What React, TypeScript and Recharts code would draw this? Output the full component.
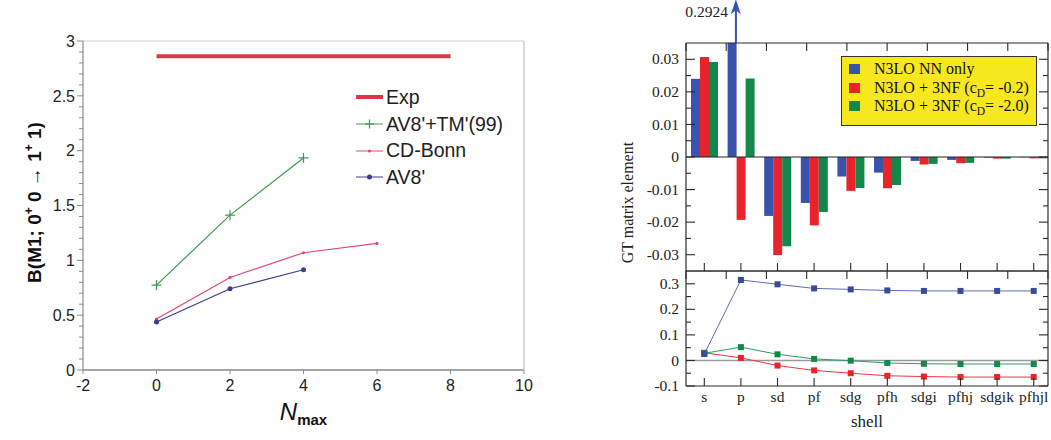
import React from "react";
import { LineChart, Line, BarChart, Bar, XAxis, YAxis, ReferenceLine, Legend, Label } from "recharts";

const SANS = "'Liberation Sans', Arial, sans-serif";
const SERIF = "'Liberation Serif', 'Times New Roman', serif";

// ---- left panel: B(M1; 0+0 -> 1+1) vs Nmax ----
const nmaxTicks = [-2, 0, 2, 4, 6, 8, 10];
const bm1Major = [0, 0.5, 1, 1.5, 2, 2.5, 3];
const expNmax = [0, 8];
const expValues = [2.86, 2.86];
const tmNmax = [0, 2, 4];
const tmValues = [0.774, 1.412, 1.934];
const cdbNmax = [0, 2, 4, 6];
const cdbValues = [0.465, 0.844, 1.069, 1.154];
const av8Nmax = [0, 2, 4];
const av8Values = [0.437, 0.741, 0.914];

const leftNames = ["Exp", "AV8'+TM'(99)", "CD-Bonn", "AV8'"];

// ---- right panel: GT matrix element per shell ----
const shells = ["s", "p", "sd", "pf", "sdg", "pfh", "sdgi", "pfhj", "sdgik", "pfhjl"];
const gtNN = [0.024, 0.2924, -0.0181, -0.0141, -0.006, -0.0048, -0.0012, -0.0009, -0.0002, -0.0001];
const gtCd02 = [0.0307, -0.0193, -0.0301, -0.021, -0.0104, -0.0096, -0.0023, -0.0019, -0.0005, -0.0004];
const gtCd20 = [0.0292, 0.0241, -0.0274, -0.0169, -0.0095, -0.0086, -0.0021, -0.0018, -0.0005, -0.0004];
// running totals (lower frame)
const sumNN = [0.025, 0.315, 0.298, 0.282, 0.278, 0.274, 0.272, 0.272, 0.272, 0.272];
const sumCd02 = [0.03, 0.01, -0.02, -0.039, -0.05, -0.06, -0.063, -0.065, -0.065, -0.065];
const sumCd20 = [0.028, 0.052, 0.024, 0.006, -0.001, -0.01, -0.013, -0.014, -0.014, -0.014];

const gtNames = ["N3LO NN only", "N3LO + 3NF (c_D= -0.2)", "N3LO + 3NF (c_D= -2.0)"];
const gtMajor = [-0.03, -0.02, -0.01, 0, 0.01, 0.02, 0.03];
const sumMajor = [-0.1, 0, 0.1, 0.2, 0.3];

const C_EXP = "#d93848";
const C_TM = "#3a9a52";
const C_CDB = "#e0457e";
const C_AV8 = "#3c3c8e";
const C_NN = "#3b52ad";
const C_CD02 = "#e8232b";
const C_CD20 = "#14874a";
const FRAME = "#2a2a2a";

const zip = (xs: number[], ys: number[]) => xs.map((x, i) => ({ x, y: ys[i] }));
const expData = zip(expNmax, expValues);
const tmData = zip(tmNmax, tmValues);
const cdbData = zip(cdbNmax, cdbValues);
const av8Data = zip(av8Nmax, av8Values);

const shellIdx = shells.map((_, i) => i);
const gtRows = shells.map((s, i) => ({ x: i, shell: s, nn: gtNN[i], cd02: gtCd02[i], cd20: gtCd20[i] }));
const sumRows = shells.map((s, i) => ({ x: i, shell: s, nn: sumNN[i], cd02: sumCd02[i], cd20: sumCd20[i] }));

const X_DOMAIN = [-0.5, 9.39];

const fmt = (v: number) => String(Number(v.toFixed(3)));
const near = (v: number, step: number) => Math.abs(v / step - Math.round(v / step)) < 1e-6;
const withMinor = (major: number[], parts: number) => {
  const out: number[] = [];
  for (let i = 0; i < major.length - 1; i++) {
    const d = (major[i + 1] - major[i]) / parts;
    for (let k = 0; k < parts; k++) out.push(Number((major[i] + k * d).toFixed(4)));
  }
  out.push(major[major.length - 1]);
  return out;
};
const sortByNames = (payload: any[], names: string[]) =>
  [...(payload || [])].sort((a, b) => names.indexOf(a.value) - names.indexOf(b.value));

// ---- left panel pieces ----
function BTickY(props: any) {
  const { x, y, payload } = props;
  const v = payload.value;
  const major = near(v, 0.5);
  return (
    <g>
      <line x1={x - (major ? 6 : 4)} x2={x} y1={y} y2={y} stroke="#8a8a8a" />
      {major && (
        <text x={x - 8} y={y} dy="0.36em" textAnchor="end" fontFamily={SANS} fontSize={16} fill="#222">
          {fmt(v)}
        </text>
      )}
    </g>
  );
}

function BTickX(props: any) {
  const { x, y, payload } = props;
  return (
    <g>
      <line x1={x} x2={x} y1={y} y2={y + 4} stroke="#8a8a8a" />
      <text x={x} y={y + 15} dy="0.36em" textAnchor="middle" fontFamily={SANS} fontSize={16} fill="#222">
        {payload.value}
      </text>
    </g>
  );
}

function BTitle(props: any) {
  const vb = props.viewBox || {};
  return (
    <text
      transform={`translate(${vb.x + vb.width - 42}, ${vb.y + vb.height / 2 - 3}) rotate(-90)`}
      textAnchor="middle"
      fontFamily={SANS}
      fontSize={19}
      fontWeight="bold"
      fill="#111"
    >
      B(M1; 0<tspan dy={-8} fontSize={12}>+</tspan>
      <tspan dy={8}> 0 → 1</tspan>
      <tspan dy={-8} fontSize={12}>+</tspan>
      <tspan dy={8}> 1)</tspan>
    </text>
  );
}

function NmaxTitle(props: any) {
  const vb = props.viewBox || {};
  return (
    <text x={vb.x + vb.width / 2} y={vb.y + 50} textAnchor="middle" fontFamily={SANS} fill="#111">
      <tspan fontSize={24} fontStyle="italic">N</tspan>
      <tspan fontSize={15} fontWeight="bold" dy={5}>max</tspan>
    </text>
  );
}

const plusDot = (color: string) => (p: any) => {
  const { cx, cy, index } = p;
  if (cx == null || cy == null) return <g key={index} />;
  return (
    <g key={index}>
      <line x1={cx - 5} x2={cx + 5} y1={cy} y2={cy} stroke={color} strokeWidth={1.2} />
      <line x1={cx} x2={cx} y1={cy - 5} y2={cy + 5} stroke={color} strokeWidth={1.2} />
    </g>
  );
};

const markerFor: Record<string, (c: string) => React.ReactNode> = {
  "AV8'+TM'(99)": (c) => (
    <g>
      <line x1={9} x2={18} y1={6} y2={6} stroke={c} strokeWidth={1.2} />
      <line x1={13.5} x2={13.5} y1={1.5} y2={10.5} stroke={c} strokeWidth={1.2} />
    </g>
  ),
  "CD-Bonn": (c) => <circle cx={13.5} cy={6} r={1.6} fill={c} />,
  "AV8'": (c) => <circle cx={13.5} cy={6} r={2.5} fill={c} />,
};

function BLegend(props: any) {
  const items = sortByNames(props.payload, leftNames);
  return (
    <div style={{ fontFamily: SANS, fontSize: 19.5, color: "#222" }}>
      {items.map((it: any) => (
        <div key={it.value} style={{ display: "flex", alignItems: "center", height: 26.7, whiteSpace: "nowrap" }}>
          <svg width={27} height={12}>
            <line x1={0} x2={27} y1={6} y2={6} stroke={it.color} strokeWidth={it.value === "Exp" ? 4 : 1} />
            {markerFor[it.value] ? markerFor[it.value](it.color) : null}
          </svg>
          <span style={{ marginLeft: 3 }}>{it.value}</span>
        </div>
      ))}
    </div>
  );
}

// ---- right panel pieces ----
const frameYTick = (majorStep: number, side: "left" | "right") => (props: any) => {
  const { x, y, payload } = props;
  const v = payload.value;
  const major = near(v, majorStep);
  const len = major ? 9 : 5;
  const dir = side === "left" ? 1 : -1;
  return (
    <g>
      <line x1={x} x2={x + dir * len} y1={y} y2={y} stroke={FRAME} strokeWidth={1.1} />
      {side === "left" && major && (
        <text x={x - 7} y={y} dy="0.33em" textAnchor="end" fontFamily={SERIF} fontSize={15.5} fill="#222">
          {fmt(v)}
        </text>
      )}
    </g>
  );
};

const frameXTick = (dir: number, labels?: string[]) => (props: any) => {
  const { x, y, payload } = props;
  return (
    <g>
      <line x1={x} x2={x} y1={y} y2={y + dir * 8} stroke={FRAME} strokeWidth={1.1} />
      {labels && (
        <text x={x} y={y + 11} dy="0.33em" textAnchor="middle" fontFamily={SERIF} fontSize={15.5} fill="#222">
          {labels[payload.value]}
        </text>
      )}
    </g>
  );
};

function GtTitle(props: any) {
  const vb = props.viewBox || {};
  return (
    <text
      transform={`translate(${vb.x + vb.width - 53}, ${vb.y + vb.height * 0.7}) rotate(-90)`}
      textAnchor="middle"
      fontFamily={SERIF}
      fontSize={16}
      fill="#222"
    >
      GT matrix element
    </text>
  );
}

function ShellTitle(props: any) {
  const vb = props.viewBox || {};
  return (
    <text x={vb.x + vb.width / 2} y={vb.y + 41} textAnchor="middle" fontFamily={SERIF} fontSize={17} fill="#222">
      shell
    </text>
  );
}

function ArrowShape(props: any) {
  const { x1, y1, y2 } = props;
  const x = x1 - 5;
  return (
    <g>
      <line x1={x} x2={x} y1={y1} y2={y2 + 6} stroke={C_NN} strokeWidth={2} />
      <polygon points={`${x},${y2 - 2} ${x - 5},${y2 + 13} ${x},${y2 + 9} ${x + 5},${y2 + 13}`} fill={C_NN} />
      <text x={x - 8} y={y2 + 16} textAnchor="end" fontFamily={SERIF} fontSize={15.5} fill="#222">
        {gtNN[shells.indexOf("p")]}
      </text>
    </g>
  );
}

const gtLabel = (name: string) => {
  const parts = name.split("c_D");
  if (parts.length < 2) return name;
  return (
    <>
      {parts[0]}c<span style={{ fontSize: 11.5, position: "relative", top: 4 }}>D</span>
      {parts[1]}
    </>
  );
};

function GtLegend(props: any) {
  const items = sortByNames(props.payload, gtNames);
  return (
    <div
      style={{
        background: "#f6e71f",
        border: "1px solid #333",
        width: 196,
        height: 70,
        boxSizing: "border-box",
        padding: "3px 0 0 7px",
        fontFamily: SERIF,
        fontSize: 16,
        color: "#111",
      }}
    >
      {items.map((it: any) => (
        <div key={it.value} style={{ display: "flex", alignItems: "center", height: 18.5, whiteSpace: "nowrap" }}>
          <span style={{ width: 11, height: 10, background: it.color, display: "inline-block", flex: "none" }} />
          <span style={{ marginLeft: 14 }}>{gtLabel(it.value)}</span>
        </div>
      ))}
    </div>
  );
}

const squareDot = (color: string) => (p: any) => {
  const { cx, cy, index } = p;
  if (cx == null || cy == null) return <g key={index} />;
  return <rect key={index} x={cx - 3} y={cy - 3} width={6} height={6} fill={color} />;
};

const gtTicks = withMinor(gtMajor, 2);
const sumTicks = withMinor(sumMajor, 2);
const bm1Ticks = withMinor(bm1Major, 5);

// axes are 1px thick so recharts draws them; the margins make up the rest
const frameAxis = {
  interval: 0 as const,
  allowDataOverflow: true,
  tickLine: false,
  tickSize: 0,
  tickMargin: 0,
  axisLine: { stroke: FRAME, strokeWidth: 1.2 },
};

export default function App() {
  return (
    <div style={{ position: "absolute", left: 0, top: 0, width: 1051, height: 440, background: "#fff", overflow: "hidden" }}>
      <div style={{ position: "absolute", left: 0, top: 0 }}>
        <LineChart width={545} height={440} margin={{ top: 40, right: 20, bottom: 69, left: 82 }}>
          <XAxis
            xAxisId="x"
            type="number"
            dataKey="x"
            domain={[-2, 10]}
            ticks={nmaxTicks}
            interval={0}
            allowDataOverflow
            height={1}
            tickLine={false}
            tickSize={0}
            tickMargin={0}
            axisLine={{ stroke: "#8a8a8a", strokeWidth: 1.5 }}
            tick={<BTickX />}
          >
            <Label content={<NmaxTitle />} />
          </XAxis>
          <XAxis
            xAxisId="top"
            orientation="top"
            type="number"
            domain={[-2, 10]}
            allowDataOverflow
            height={1}
            tick={false}
            tickLine={false}
            axisLine={{ stroke: "#cfcfcf", strokeWidth: 1.2 }}
          />
          <YAxis
            yAxisId="y"
            type="number"
            domain={[0, 3]}
            ticks={bm1Ticks}
            interval={0}
            allowDataOverflow
            width={1}
            tickLine={false}
            tickSize={0}
            tickMargin={0}
            axisLine={{ stroke: "#8a8a8a", strokeWidth: 1.2 }}
            tick={<BTickY />}
          >
            <Label content={<BTitle />} />
          </YAxis>
          <YAxis
            yAxisId="right"
            orientation="right"
            type="number"
            domain={[0, 3]}
            allowDataOverflow
            width={1}
            tick={false}
            tickLine={false}
            axisLine={{ stroke: "#cfcfcf", strokeWidth: 1.5 }}
          />
          <Line xAxisId="x" yAxisId="y" data={expData} dataKey="y" name="Exp" stroke={C_EXP} strokeWidth={4} dot={false} isAnimationActive={false} />
          <Line xAxisId="x" yAxisId="y" data={tmData} dataKey="y" name="AV8'+TM'(99)" stroke={C_TM} strokeWidth={1.2} dot={plusDot(C_TM)} isAnimationActive={false} />
          <Line
            xAxisId="x"
            yAxisId="y"
            data={cdbData}
            dataKey="y"
            name="CD-Bonn"
            stroke={C_CDB}
            strokeWidth={1.2}
            dot={{ r: 1.6, fill: C_CDB, stroke: "none" }}
            isAnimationActive={false}
          />
          <Line
            xAxisId="x"
            yAxisId="y"
            data={av8Data}
            dataKey="y"
            name="AV8'"
            stroke={C_AV8}
            strokeWidth={1.2}
            dot={{ r: 2.5, fill: C_AV8, stroke: "none" }}
            isAnimationActive={false}
          />
          <Legend content={<BLegend />} layout="vertical" align="center" verticalAlign="middle" wrapperStyle={{ left: 356, top: 84 }} />
        </LineChart>
      </div>

      <div style={{ position: "absolute", left: 600, top: 0 }}>
        <BarChart width={451} height={275} data={gtRows} margin={{ top: 42, right: 2, bottom: 3, left: 85 }} barGap={0} barSize={9}>
          <XAxis xAxisId="b" type="number" dataKey="x" domain={X_DOMAIN} ticks={shellIdx} height={1} tick={frameXTick(-1)} {...frameAxis} />
          <XAxis xAxisId="t" orientation="top" type="number" domain={X_DOMAIN} ticks={shellIdx} height={1} tick={frameXTick(1)} {...frameAxis} />
          <YAxis yAxisId="l" type="number" domain={[-0.035, 0.035]} ticks={gtTicks} width={1} tick={frameYTick(0.01, "left")} {...frameAxis}>
            <Label content={<GtTitle />} />
          </YAxis>
          <YAxis yAxisId="r" orientation="right" type="number" domain={[-0.035, 0.035]} ticks={gtTicks} width={1} tick={frameYTick(0.01, "right")} {...frameAxis} />
          <Bar xAxisId="b" yAxisId="l" dataKey="nn" name={gtNames[0]} fill={C_NN} isAnimationActive={false} />
          <Bar xAxisId="b" yAxisId="l" dataKey="cd02" name={gtNames[1]} fill={C_CD02} isAnimationActive={false} />
          <Bar xAxisId="b" yAxisId="l" dataKey="cd20" name={gtNames[2]} fill={C_CD20} isAnimationActive={false} />
          <ReferenceLine xAxisId="b" yAxisId="l" y={0} stroke="#222" strokeWidth={1.2} />
          <ReferenceLine
            xAxisId="b"
            yAxisId="l"
            segment={[
              { x: shells.indexOf("p"), y: 0.035 },
              { x: shells.indexOf("p"), y: 0.0478 },
            ]}
            ifOverflow="visible"
            shape={ArrowShape}
          />
          <Legend content={<GtLegend />} layout="vertical" align="center" verticalAlign="middle" wrapperStyle={{ left: 241, top: 56 }} />
        </BarChart>
      </div>

      <div style={{ position: "absolute", left: 600, top: 260 }}>
        <LineChart width={451} height={180} data={sumRows} margin={{ top: 10, right: 2, bottom: 53, left: 85 }}>
          <XAxis xAxisId="b" type="number" dataKey="x" domain={X_DOMAIN} ticks={shellIdx} height={1} tick={frameXTick(-1, shells)} {...frameAxis}>
            <Label content={<ShellTitle />} />
          </XAxis>
          <XAxis xAxisId="t" orientation="top" type="number" domain={X_DOMAIN} ticks={shellIdx} height={1} tick={frameXTick(1)} {...frameAxis} />
          <YAxis yAxisId="l" type="number" domain={[-0.1, 0.35]} ticks={sumTicks} width={1} tick={frameYTick(0.1, "left")} {...frameAxis} />
          <YAxis yAxisId="r" orientation="right" type="number" domain={[-0.1, 0.35]} ticks={sumTicks} width={1} tick={frameYTick(0.1, "right")} {...frameAxis} />
          <ReferenceLine xAxisId="b" yAxisId="l" y={0} stroke="#9a9a9a" strokeWidth={1.5} />
          <Line xAxisId="b" yAxisId="l" dataKey="cd02" stroke="#e6393f" strokeWidth={1} dot={squareDot(C_CD02)} isAnimationActive={false} />
          <Line xAxisId="b" yAxisId="l" dataKey="cd20" stroke="#2f9a5e" strokeWidth={1} dot={squareDot(C_CD20)} isAnimationActive={false} />
          <Line xAxisId="b" yAxisId="l" dataKey="nn" stroke="#5d6db5" strokeWidth={1} dot={squareDot("#3a4a9a")} isAnimationActive={false} />
        </LineChart>
      </div>
    </div>
  );
}
